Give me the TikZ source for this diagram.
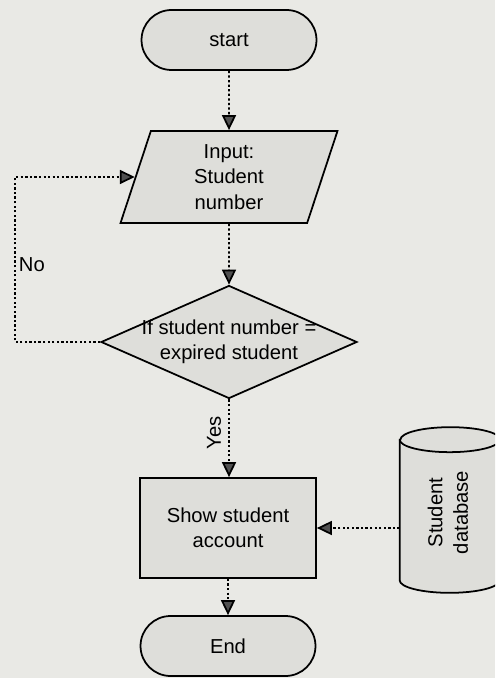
\documentclass[tikz,border=0pt]{standalone}
\usepackage{fontspec}
\setmainfont{Liberation Sans}
\usetikzlibrary{shapes.geometric,arrows.meta}
\definecolor{paper}{RGB}{233,233,229}
\definecolor{boxfill}{RGB}{222,222,218}
\definecolor{tipgray}{RGB}{80,80,80}
\begin{document}
\begin{tikzpicture}[x=0.02cm,y=-0.02cm,
  every node/.style={font=\fontsize{11.5}{14.5}\selectfont, align=center},
  shapebox/.style={draw=black, line width=1pt, fill=boxfill},
  terminal/.style={shapebox, rectangle, rounded corners=0.6cm,
    minimum width=3.5cm, minimum height=1.2cm},
  io/.style={shapebox, trapezium, trapezium left angle=65,
    trapezium right angle=115, trapezium stretches body,
    minimum width=4.34cm, minimum height=1.84cm, inner sep=0pt},
  decision/.style={shapebox, diamond, minimum width=5.12cm,
    minimum height=2.26cm, inner sep=0pt},
  process/.style={shapebox, rectangle, minimum width=3.52cm,
    minimum height=2cm},
  flow/.style={line width=1pt, dash pattern=on 1.3pt off 1.3pt,
    -{Triangle[width=0.28cm,length=0.3cm,fill=tipgray]}}]

% paper and page size
\fill[paper] (0,0) rectangle (495,678);
\useasboundingbox (0,0) rectangle (495,678);
\clip (0,0) rectangle (495,678);

% flow chart boxes
\node[terminal] (start) at (229,40) {start};
\node[io] (inp) at (229,177) {Input:\\Student\\number};
\node[decision] (dec) at (229,342)
  {\makebox[0pt]{If student number =}\\\makebox[0pt]{expired student}};
\node[process] (act) at (228,528) {Show student\\account};
\node[terminal] (stop) at (228,646) {End};

% student database drum
\node[minimum width=2cm, minimum height=2.8cm, inner sep=0pt] (db) at (450,510) {};
\draw[shapebox] (db.north west) -- (db.south west)
  arc[start angle=180, end angle=360, x radius=1cm, y radius=0.25cm]
  -- (db.north east)
  arc[start angle=0, end angle=180, x radius=1cm, y radius=0.25cm] -- cycle;
\draw[line width=1pt] (db.north west)
  arc[start angle=180, end angle=360, x radius=1cm, y radius=0.25cm];
\node (dbtext) at ([yshift=-0.05cm]db.center)
  {\rotatebox{90}{\begin{tabular}{@{}c@{}}Student\\database\end{tabular}}};

% connectors
\coordinate (loopx) at (15,0);
\draw[flow] (start.south) -- (inp.north);
\draw[flow] (inp.south) -- (dec.north);
\draw[flow] (dec.west) -- (dec.west -| loopx) |- (inp.west);
\draw[flow] (dec.south) -- (dec.south |- act.north);
\draw[flow] (act.south) -- (stop.north);
\draw[flow] (act.east -| db.west) -- (act.east);

% branch labels
\node[anchor=west, inner sep=1.5pt] (nolab) at (16,265) {No};
\node[rotate=90] (yeslab) at (214,433) {Yes};
\end{tikzpicture}
\end{document}
